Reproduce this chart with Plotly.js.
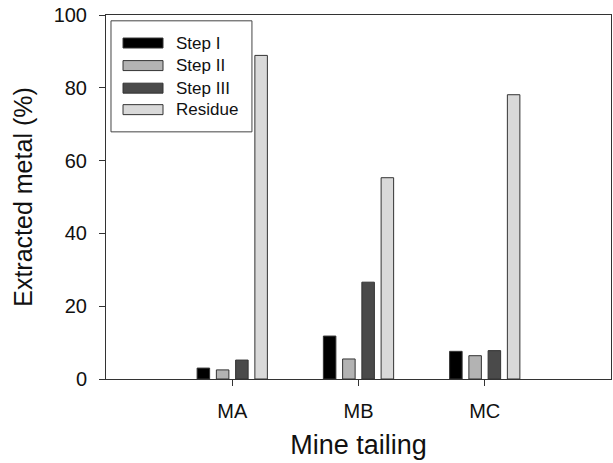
<!DOCTYPE html>
<html>
<head>
<meta charset="utf-8">
<script src="https://cdn.plot.ly/plotly-3.0.1.min.js"></script>
<style>html,body{margin:0;padding:0;background:#fff;}</style>
</head>
<body>
<div id="chart" style="width:613px;height:463px;"></div>
<script>
const categories = ['MA', 'MB', 'MC'];
const seriesNames = ['Step I', 'Step II', 'Step III', 'Residue'];
const stepI = [3.0, 11.8, 7.6];
const stepII = [2.5, 5.5, 6.4];
const stepIII = [5.2, 26.6, 7.8];
const residue = [88.9, 55.3, 78.1];
const yTicks = [0, 20, 40, 60, 80, 100];

const seriesValues = [stepI, stepII, stepIII, residue];
const colors = ['#000000', '#b3b3b3', '#4a4a4a', '#d9d9d9'];
const outline = '#333333';

const traces = seriesNames.map((n, i) => ({
  type: 'bar',
  name: n,
  x: categories,
  y: seriesValues[i],
  marker: {color: colors[i], line: {color: outline, width: 1}},
  showlegend: false,
  hoverinfo: 'x+y+name'
}));

// custom legend (box, swatches, labels) in paper coordinates
const shapes = [{
  type: 'rect', xref: 'paper', yref: 'paper',
  x0: 0.0099, x1: 0.289, y0: 0.679, y1: 0.984,
  line: {color: '#444', width: 1}, fillcolor: 'rgba(255,255,255,1)', layer: 'above'
}];
const annotations = [];
const legY = [0.923, 0.861, 0.799, 0.740];
seriesNames.forEach((n, i) => {
  shapes.push({
    type: 'rect', xref: 'paper', yref: 'paper',
    x0: 0.0337, x1: 0.1129, y0: legY[i] - 0.0137, y1: legY[i] + 0.0137,
    line: {color: outline, width: 1}, fillcolor: colors[i], layer: 'above'
  });
  annotations.push({
    xref: 'paper', yref: 'paper', x: 0.1347, y: legY[i],
    xanchor: 'left', yanchor: 'middle', showarrow: false,
    text: n, font: {family: 'Liberation Sans, Arial, sans-serif', size: 17, color: '#111'}
  });
});

const layout = {
  width: 613, height: 463,
  margin: {l: 106, r: 2, t: 15, b: 84},
  paper_bgcolor: '#fff', plot_bgcolor: '#fff',
  font: {family: 'Liberation Sans, Arial, sans-serif', color: '#111'},
  barmode: 'group',
  bargap: 0.39,
  bargroupgap: 0.35,
  showlegend: false,
  xaxis: {
    type: 'category',
    range: [-1, 3],
    showgrid: false, zeroline: false,
    showline: true, mirror: true, linecolor: '#333', linewidth: 1,
    ticks: 'outside', ticklen: 6, tickcolor: '#333',
    tickfont: {size: 20, color: '#111'},
    ticklabelstandoff: 8,
    title: {text: 'Mine tailing', font: {size: 27, color: '#111'}, standoff: 14}
  },
  yaxis: {
    range: [0, 100],
    tickvals: yTicks,
    showgrid: false, zeroline: false,
    showline: true, mirror: true, linecolor: '#333', linewidth: 1,
    ticks: 'outside', ticklen: 6, tickcolor: '#333',
    tickfont: {size: 20, color: '#111'},
    ticklabelstandoff: 8,
    title: {text: 'Extracted metal (%)', font: {size: 25, color: '#111'}, standoff: 13}
  },
  shapes: shapes,
  annotations: annotations
};

Plotly.newPlot('chart', traces, layout, {displayModeBar: false, staticPlot: true});
</script>
</body>
</html>
